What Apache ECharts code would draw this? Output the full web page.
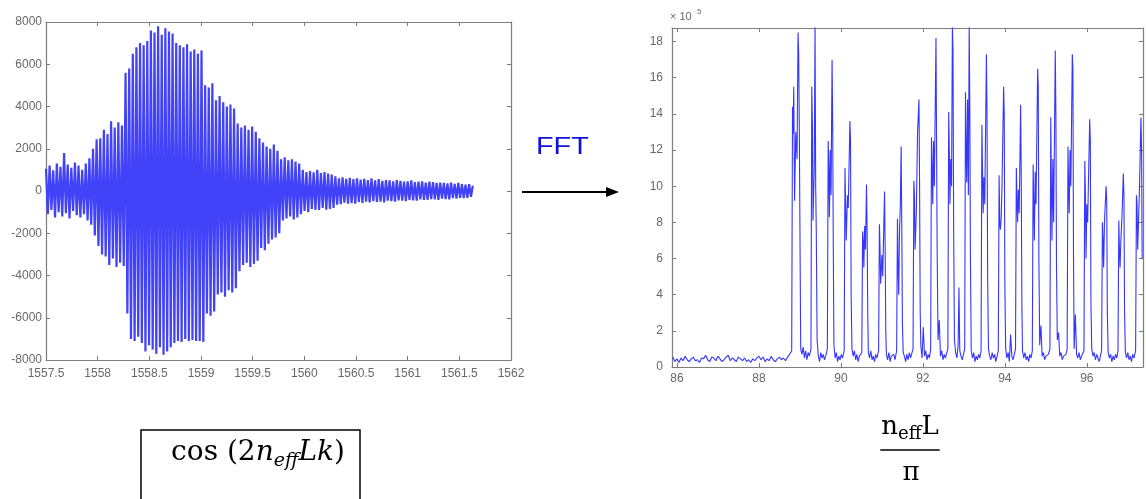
<!DOCTYPE html>
<html>
<head>
<meta charset="utf-8">
<script src="https://cdn.jsdelivr.net/npm/echarts@6/dist/echarts.min.js"></script>
<style>
  html, body { margin: 0; padding: 0; background: #fff; }
  #chart { width: 1146px; height: 499px; }
</style>
</head>
<body>
<div id="chart"></div>
<script>
// Interferogram: intensity sampled on a uniform wavelength grid (nm)
const wlStart = 1557.5;
const wlStep = 0.0175;
const interferogram = [
  1050,-1100,1200,-900,980,-1250,1300,-1000,1150,-1200,
  1800,-1050,1250,-1300,1100,-950,1350,-1150,1200,-1250,
  1000,-1100,1300,-1400,1550,-1600,2000,-2100,2450,-2600,
  2500,-3000,2900,-3100,2700,-3500,3300,-3200,3000,-3600,
  3250,-3400,3100,-3550,5600,-5800,5800,-7000,6500,-7100,
  6800,-6900,7000,-7200,6900,-7600,7100,-7300,7600,-7500,
  7500,-7700,7800,-7400,7400,-7750,7700,-7600,7550,-7400,
  7450,-7200,7000,-7100,6900,-7150,6800,-7000,6950,-7100,
  6600,-7050,6700,-7100,6500,-7100,6650,-7150,5000,-5800,
  4900,-5900,5100,-5700,4300,-4900,4500,-4800,4200,-5000,
  4000,-4700,4100,-4800,3900,-4600,3200,-3800,3000,-3500,
  3100,-3400,2900,-3600,3050,-3450,2800,-3300,2500,-2700,
  2300,-2800,2100,-2500,2000,-2300,2200,-2200,1900,-2000,
  1500,-1400,1600,-1300,1450,-1200,1500,-1350,1400,-1250,
  1300,-1100,1000,-950,900,-1000,950,-850,880,-900,
  1000,-900,850,-800,900,-880,820,-850,780,-800,
  700,-650,600,-620,650,-550,580,-600,620,-580,
  560,-600,600,-520,540,-560,580,-500,520,-540,
  600,-480,500,-520,560,-500,480,-540,520,-460,
  500,-480,460,-500,520,-440,480,-460,440,-480,
  460,-420,500,-450,420,-460,440,-400,460,-420,
  400,-420,440,-380,420,-400,380,-420,400,-360,
  380,-380,360,-400,400,-340,340,-360,380,-320,
  330,-340,300,-320,320,-280,250
];
const waveTicks = ['1557.5','1558','1558.5','1559','1559.5','1560','1560.5','1561','1561.5','1562'];
const ampTicks = [-8000,-6000,-4000,-2000,0,2000,4000,6000,8000];

// Spectrum magnitude (x 10^5) against n_eff L / pi
const floorStart = 85.9;
const floorStep = 0.05;
const floorLevels = [
  0.55,0.30,0.45,0.25,0.50,0.35,0.60,0.40,0.30,0.45,
  0.55,0.35,0.40,0.25,0.50,0.45,0.65,0.40,0.30,0.55,
  0.50,0.35,0.60,0.45,0.30,0.40,0.55,0.65,0.35,0.50,
  0.40,0.30,0.55,0.45,0.35,0.50,0.30,0.40,0.25,0.45,
  0.35,0.50,0.60,0.40,0.55,0.30,0.45,0.35,0.60,0.40,
  0.30,0.45,0.55,0.40,0.50,0.35,0.55,0.70
];
const peakTrace = [
  [88.80,0.9],[88.82,14.4],[88.835,12.9],[88.85,15.5],[88.87,9.2],[88.90,13.0],[88.93,11.5],[88.955,18.5],[88.97,17.4],[88.985,13.4],[89.00,8.0],[89.02,1.0],
  [89.05,0.7],[89.08,1.1],[89.11,0.5],[89.14,0.9],[89.17,0.4],[89.20,0.8],[89.23,0.6],
  [89.27,1.0],[89.29,15.5],[89.305,13.5],[89.32,8.1],[89.35,11.0],[89.37,18.9],[89.385,10.0],[89.40,7.5],[89.42,1.5],
  [89.45,0.6],[89.48,0.3],[89.51,0.8],[89.54,0.5],[89.57,0.7],[89.60,0.4],[89.63,0.6],
  [89.67,1.0],[89.69,12.5],[89.705,11.0],[89.72,8.3],[89.74,12.0],[89.76,9.5],[89.785,17.0],[89.80,13.5],[89.815,6.5],[89.83,1.2],
  [89.86,0.5],[89.89,0.8],[89.92,0.3],[89.95,0.6],[89.98,0.4],[90.01,0.7],[90.04,0.5],
  [90.08,0.9],[90.10,11.0],[90.115,9.0],[90.13,7.0],[90.16,9.5],[90.18,8.8],[90.22,13.6],[90.235,12.5],[90.25,4.0],[90.27,1.0],
  [90.30,0.6],[90.33,0.9],[90.36,0.4],[90.39,0.7],[90.42,0.3],[90.45,0.6],[90.48,0.5],
  [90.51,0.8],[90.53,7.5],[90.545,7.0],[90.56,5.5],[90.58,7.8],[90.60,6.5],[90.625,10.1],[90.64,7.5],[90.655,3.0],[90.67,0.8],
  [90.70,0.5],[90.73,0.9],[90.76,0.4],[90.79,0.6],[90.82,0.3],[90.85,0.7],[90.88,0.5],
  [90.92,0.9],[90.94,7.9],[90.955,6.5],[90.97,4.6],[91.00,6.2],[91.02,5.0],[91.065,9.7],[91.08,6.5],[91.095,2.0],[91.11,0.7],
  [91.14,0.4],[91.17,0.8],[91.20,0.3],[91.23,0.6],[91.26,0.5],[91.29,0.7],[91.32,0.4],
  [91.36,0.9],[91.38,8.2],[91.395,5.5],[91.41,4.0],[91.43,7.5],[91.45,9.0],[91.47,12.2],[91.485,8.0],[91.50,2.5],[91.52,0.8],
  [91.55,0.6],[91.58,0.3],[91.61,0.7],[91.64,0.4],[91.67,0.8],[91.70,0.5],[91.73,0.6],
  [91.76,1.0],[91.78,10.3],[91.795,9.5],[91.81,6.5],[91.84,8.5],[91.87,13.0],[91.905,14.8],[91.92,10.0],[91.935,3.0],[91.95,1.2],
  [91.98,0.5],[92.01,2.2],[92.04,0.6],[92.07,0.9],[92.10,0.4],[92.13,0.7],[92.16,0.5],
  [92.19,1.0],[92.21,12.7],[92.225,11.0],[92.24,9.0],[92.26,12.5],[92.28,10.0],[92.32,18.2],[92.335,12.0],[92.35,6.0],[92.37,1.5],
  [92.40,2.6],[92.43,0.6],[92.46,0.9],[92.49,0.4],[92.52,0.7],[92.55,0.5],[92.58,0.6],
  [92.61,1.0],[92.63,14.1],[92.645,12.0],[92.66,9.0],[92.68,11.5],[92.70,10.0],[92.72,18.9],[92.735,17.5],[92.75,8.0],[92.77,1.5],
  [92.80,0.8],[92.83,0.5],[92.86,1.2],[92.88,4.4],[92.90,0.9],[92.93,0.6],[92.96,0.4],
  [93.02,1.0],[93.04,15.2],[93.055,12.0],[93.07,10.2],[93.09,14.8],[93.11,9.5],[93.13,18.9],[93.145,14.5],[93.16,6.0],[93.18,0.9],
  [93.21,0.5],[93.24,0.8],[93.27,0.3],[93.30,0.6],[93.33,0.4],[93.36,0.7],[93.39,0.5],
  [93.42,0.9],[93.44,13.4],[93.455,11.0],[93.47,8.5],[93.49,10.5],[93.51,9.0],[93.55,17.3],[93.565,14.0],[93.58,5.0],[93.60,1.0],
  [93.63,0.6],[93.66,0.4],[93.69,0.8],[93.72,0.5],[93.75,0.7],[93.78,0.3],[93.81,0.6],
  [93.84,0.9],[93.86,10.6],[93.875,8.0],[93.89,7.6],[93.91,8.2],[93.93,10.0],[93.97,15.5],[93.985,14.0],[94.00,4.5],[94.02,1.0],
  [94.05,0.5],[94.08,0.8],[94.11,0.3],[94.14,1.8],[94.17,0.6],[94.20,0.4],[94.23,0.7],
  [94.26,1.0],[94.28,11.0],[94.295,9.5],[94.31,8.0],[94.33,9.8],[94.35,8.5],[94.385,14.5],[94.40,10.5],[94.415,3.5],[94.43,0.9],
  [94.46,0.5],[94.49,0.8],[94.52,0.4],[94.55,0.6],[94.58,0.3],[94.61,0.7],[94.64,0.5],
  [94.67,0.9],[94.69,11.2],[94.705,9.0],[94.72,7.0],[94.74,10.8],[94.76,9.0],[94.80,16.5],[94.815,15.5],[94.83,6.0],[94.85,1.2],
  [94.88,2.3],[94.91,0.6],[94.94,0.8],[94.97,0.4],[95.00,0.6],[95.03,0.5],[95.06,0.7],
  [95.10,1.0],[95.12,13.8],[95.135,10.0],[95.15,7.0],[95.17,11.5],[95.19,8.0],[95.23,17.5],[95.245,14.0],[95.26,5.5],[95.28,1.5],
  [95.31,1.9],[95.34,0.6],[95.37,0.8],[95.40,0.4],[95.43,0.6],[95.46,0.5],[95.49,0.7],
  [95.52,1.0],[95.54,12.2],[95.555,10.0],[95.57,8.5],[95.59,12.0],[95.61,10.0],[95.645,17.3],[95.66,16.5],[95.675,6.0],[95.69,1.0],
  [95.72,2.9],[95.75,0.7],[95.78,0.5],[95.81,0.8],[95.84,0.4],[95.87,0.6],[95.90,0.5],
  [95.93,0.9],[95.95,11.4],[95.965,9.5],[95.98,6.0],[96.00,9.0],[96.02,8.0],[96.07,13.7],[96.085,12.5],[96.10,3.5],[96.12,1.0],
  [96.15,0.6],[96.18,0.8],[96.21,0.4],[96.24,0.7],[96.27,0.5],[96.30,0.3],[96.33,0.6],
  [96.36,0.9],[96.38,8.0],[96.395,7.0],[96.41,5.5],[96.43,8.0],[96.45,9.0],[96.47,10.0],[96.485,9.2],[96.50,3.0],[96.52,0.8],
  [96.55,0.5],[96.58,0.7],[96.61,0.3],[96.64,0.6],[96.67,0.4],[96.70,0.7],[96.73,0.5],
  [96.76,0.9],[96.78,8.1],[96.795,6.5],[96.81,5.5],[96.83,7.0],[96.86,8.5],[96.89,10.7],[96.905,9.5],[96.92,3.0],[96.94,0.8],
  [96.97,0.5],[97.00,0.8],[97.03,0.4],[97.06,0.6],[97.09,0.3],[97.12,0.7],[97.15,0.5],
  [97.19,0.9],[97.21,9.5],[97.225,9.0],[97.24,6.5],[97.26,8.0],[97.28,9.5],[97.32,13.8],[97.335,12.0],[97.35,6.0]
];
const specXTicks = [86, 88, 90, 92, 94, 96];
const specYTicks = [0, 2, 4, 6, 8, 10, 12, 14, 16, 18];

const waveData = interferogram.map((v, i) => [wlStart + i * wlStep, v]);
const floorData = floorLevels.map((v, i) => [floorStart + i * floorStep, v]);
const spectrumData = floorData.concat(peakTrace);

const chart = echarts.init(document.getElementById('chart'), null, { renderer: 'canvas' });

const frameColor = '#7d7d7d';
const labelColor = '#686868';
const labelFont = { color: labelColor, fontFamily: 'Liberation Sans', fontSize: 12 };
const plainNumber = v => String(Math.round(v * 1000) / 1000);

function frameAxis(extra) {
  return Object.assign({
    type: 'value',
    axisLine: { show: true, onZero: false, lineStyle: { color: frameColor, width: 1.2 } },
    axisTick: { show: true, inside: true, length: 4, lineStyle: { color: frameColor } },
    splitLine: { show: false },
    axisLabel: { show: false }
  }, extra);
}

// Text measurement for the hand-set formulas
const measureCtx = document.createElement('canvas').getContext('2d');
function textWidth(t, font) { measureCtx.font = font; return measureCtx.measureText(t).width; }
function runText(parts, centerX, midY) {
  const fonts = parts.map(p => `${p.italic ? 'italic ' : ''}${p.size}px ${p.family}`);
  const widths = parts.map((p, i) => textWidth(p.t, fonts[i]));
  const total = widths.reduce((a, b) => a + b, 0);
  let x = centerX - total / 2;
  const els = parts.map((p, i) => {
    const el = {
      type: 'text', x: x, y: midY + (p.dy || 0), silent: true,
      style: { text: p.t, font: fonts[i], fill: '#000', textAlign: 'left', textVerticalAlign: 'middle', align: 'left', verticalAlign: 'middle' }
    };
    x += widths[i];
    return el;
  });
  return { els, total };
}

const mathFamily = '"DejaVu Serif", serif';
const cosRun = runText([
  { t: 'cos (2', size: 28, family: mathFamily },
  { t: 'n', size: 28, family: mathFamily, italic: true },
  { t: 'eff', size: 19, family: mathFamily, italic: true, dy: 8 },
  { t: 'Lk', size: 28, family: mathFamily, italic: true },
  { t: ')', size: 28, family: mathFamily }
], 258, 453);

const fracCenter = 910;
const numRun = runText([
  { t: 'n', size: 26, family: mathFamily },
  { t: 'eff', size: 18, family: mathFamily, dy: 7 },
  { t: 'L', size: 26, family: mathFamily }
], fracCenter, 427);
const barHalf = numRun.total / 2 + 1;

const graphics = [
  // FFT label and arrow between the panels
  { type: 'text', x: 536, y: 147, silent: true, scaleX: 1.2,
    style: { text: 'FFT', font: '24px "Liberation Sans", Arial, sans-serif', fill: '#1010e0', textVerticalAlign: 'middle', verticalAlign: 'middle' } },
  { type: 'line', silent: true, shape: { x1: 522, y1: 192, x2: 608, y2: 192 }, style: { stroke: '#000', lineWidth: 2 } },
  { type: 'polygon', silent: true, shape: { points: [[619, 192], [606, 187], [606, 197]] }, style: { fill: '#000' } },
  // exponent note above the spectrum axis
  { type: 'text', x: 670, y: 17, silent: true, style: { text: '\u00d7 10', font: '11px "Liberation Sans", sans-serif', fill: labelColor, textVerticalAlign: 'middle', verticalAlign: 'middle' } },
  { type: 'text', x: 697, y: 12, silent: true, style: { text: '5', font: '8px "Liberation Sans", sans-serif', fill: labelColor, textVerticalAlign: 'middle', verticalAlign: 'middle' } },
  // boxed expression under the interferogram
  { type: 'rect', silent: true, shape: { x: 141, y: 430, width: 219, height: 80 }, style: { fill: 'none', stroke: '#000', lineWidth: 1.5 } },
  // fraction under the spectrum
  { type: 'line', silent: true, shape: { x1: fracCenter - barHalf, y1: 450, x2: fracCenter + barHalf, y2: 450 }, style: { stroke: '#000', lineWidth: 1.6 } },
  { type: 'text', x: fracCenter + 1, y: 473, silent: true, style: { text: '\u03c0', font: '26px ' + mathFamily, fill: '#000', textAlign: 'center', align: 'center', textVerticalAlign: 'middle', verticalAlign: 'middle' } }
].concat(cosRun.els, numRun.els);

const option = {
  animation: false,
  backgroundColor: '#fff',
  grid: [
    { left: 46, top: 22, width: 465, height: 338 },
    { left: 672, top: 28, width: 471, height: 339 }
  ],
  xAxis: [
    frameAxis({ gridIndex: 0, position: 'bottom', min: 1557.5, max: 1562, interval: 0.5,
      axisLabel: Object.assign({ show: true, margin: 8, formatter: v => {
        const s = waveTicks.find(t => Math.abs(parseFloat(t) - v) < 1e-6); return s || ''; } }, labelFont) }),
    frameAxis({ gridIndex: 0, position: 'top', min: 1557.5, max: 1562, interval: 0.5 }),
    frameAxis({ gridIndex: 1, position: 'bottom', min: 85.88, max: 97.37,
      axisTick: { show: true, inside: true, length: 4, customValues: specXTicks, lineStyle: { color: frameColor } },
      axisLabel: Object.assign({ show: true, margin: 6, customValues: specXTicks, formatter: plainNumber }, labelFont) }),
    frameAxis({ gridIndex: 1, position: 'top', min: 85.88, max: 97.37,
      axisTick: { show: true, inside: true, length: 4, customValues: specXTicks, lineStyle: { color: frameColor } } })
  ],
  yAxis: [
    frameAxis({ gridIndex: 0, position: 'left', min: -8000, max: 8000, interval: 2000,
      axisLabel: Object.assign({ show: true, margin: 4, customValues: ampTicks, formatter: plainNumber }, labelFont) }),
    frameAxis({ gridIndex: 0, position: 'right', min: -8000, max: 8000, interval: 2000 }),
    frameAxis({ gridIndex: 1, position: 'left', min: 0, max: 18.75,
      axisTick: { show: true, inside: true, length: 4, customValues: specYTicks, lineStyle: { color: frameColor } },
      axisLabel: Object.assign({ show: true, margin: 9, customValues: specYTicks, formatter: plainNumber }, labelFont) }),
    frameAxis({ gridIndex: 1, position: 'right', min: 0, max: 18.75,
      axisTick: { show: true, inside: true, length: 4, customValues: specYTicks, lineStyle: { color: frameColor } } })
  ],
  series: [
    { type: 'line', xAxisIndex: 0, yAxisIndex: 0, data: waveData, showSymbol: false, silent: true,
      lineStyle: { color: '#4242f8', width: 2.2 }, clip: true },
    { type: 'line', xAxisIndex: 2, yAxisIndex: 2, data: spectrumData, showSymbol: false, silent: true,
      lineStyle: { color: '#3636ff', width: 1.1 }, clip: true }
  ],
  graphic: graphics
};

chart.setOption(option);
</script>
</body>
</html>
